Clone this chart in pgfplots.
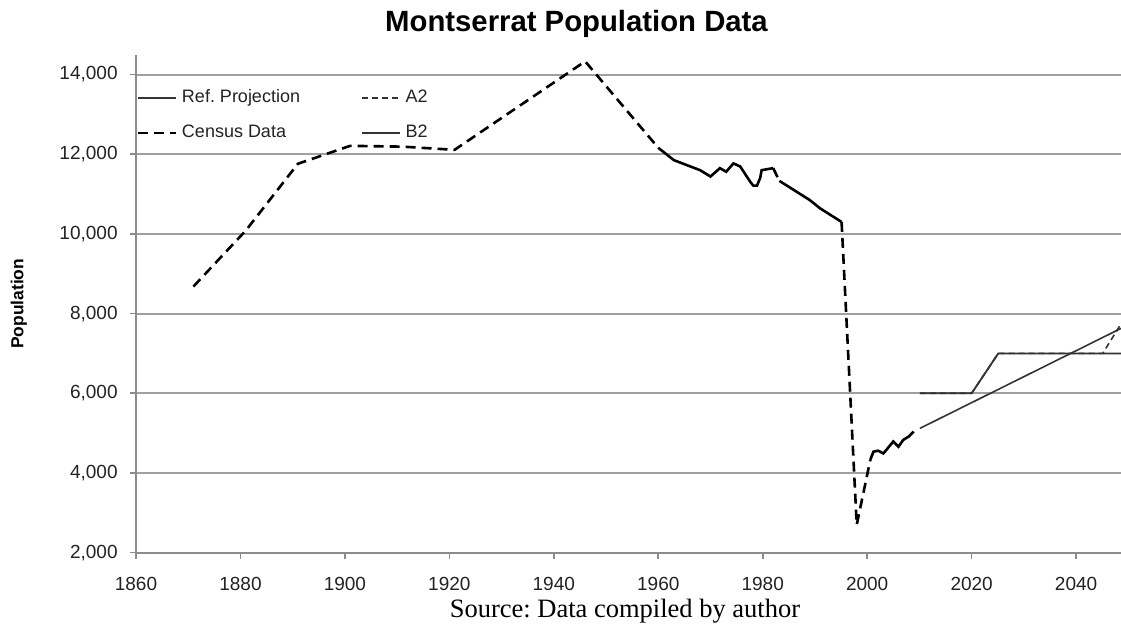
\documentclass[border=0pt]{standalone}
\usepackage{fontspec}
\setmainfont{Liberation Sans}
\newfontfamily\srcfont{Liberation Serif}
\usepackage{pgfplots}
\pgfplotsset{compat=1.18}
\frenchspacing

\definecolor{gridgray}{HTML}{A0A0A0}
\definecolor{axgray}{HTML}{8C8C8C}
\definecolor{txtgray}{HTML}{222222}
\definecolor{thingray}{HTML}{333333}

\begin{document}
\begin{tikzpicture}
\begin{axis}[
    at={(0,0)}, anchor=south west,
    scale only axis,
    width=492.5pt, height=248.85pt,
    xmin=1860, xmax=2048.6,
    ymin=2000, ymax=14490,
    xtick={1860,1880,...,2040},
    ytick={2000,4000,...,14000},
    scaled y ticks=false,
    axis x line=bottom, axis y line=left,
    axis line style={-, draw=axgray, line width=1pt},
    tick align=outside, major tick length=3pt,
    tick style={draw=axgray, line width=0.8pt},
    ymajorgrids,
    major grid style={draw=gridgray, line width=1pt},
    /pgf/number format/assume math mode=true,
    ticklabel style={font=\fontsize{9.5}{11}\selectfont, text=txtgray, inner sep=0pt},
    yticklabel style={/pgf/number format/1000 sep={,}, anchor=east, xshift=-6pt},
    xticklabel style={/pgf/number format/1000 sep={}, anchor=north, yshift=-9pt},
    title={Montserrat Population Data},
    title style={font=\bfseries\fontsize{14.65}{17}\selectfont, at={(axis description cs:0,1)},
        anchor=base, xshift=220.25pt, yshift=5.5pt, inner sep=0pt},
    ylabel={Population},
    ylabel style={font=\bfseries\fontsize{8.7}{10}\selectfont, at={(axis description cs:0,0.5)},
        anchor=center, yshift=58.5pt},
    legend columns=2,
    legend cell align=left,
    legend image code/.code={\draw[#1] (0pt,0pt) -- (19pt,0pt);},
    legend style={at={(0,1)}, anchor=north west, yshift=-17.1pt,
        draw=none, fill=none, inner sep=0pt,
        font=\fontsize{9}{10}\selectfont, text=txtgray,
        nodes={inner sep=0pt, text height=6.5pt, text depth=1.9pt},
        row sep=9.1pt,
        /tikz/every odd column/.append style={column sep=2.5pt},
        /tikz/every even column/.append style={column sep=30.5pt}},
    unbounded coords=jump,
]

% projection (step)
\addplot[thingray, line width=0.9pt] coordinates {
    (2010.1,6000) (2020,6000) (2025.1,7000) (2050,7000)
};
\addlegendentry{Ref. Projection}

% A2 scenario
\addplot[thingray, line width=0.8pt, dash pattern=on 3pt off 2pt] coordinates {
    (2010.1,6000) (2020,6000) (2025.1,7000) (2045.1,7000) (2050,8040)
};
\addlegendentry{A2}

% census counts
\addplot[black, line width=1.3pt, dash pattern=on 5pt off 3pt] coordinates {
    (1871,8680) (1881,10080) (1891,11760) (1901,12210) (1911,12190)
    (1921,12110) (1946,14330) (1960,12160)
    (1970,nan)
    (1982,11650) (1983.2,11330)
    (1990,nan)
    (1995.1,10300) (1998,2700) (2000.6,4330)
};
\addlegendentry{Census Data}

% B2 scenario
\addplot[thingray, line width=0.8pt] coordinates {
    (2010.1,5120) (2050,7720)
};
\addlegendentry{B2}

% annual estimates
\addplot[black, line width=1.3pt, forget plot] coordinates {
    (1960,12160) (1963,11850) (1968,11600) (1970,11440) (1971.8,11650)
    (1973,11560) (1974.4,11770) (1975.7,11690) (1977.6,11310) (1978.2,11210)
    (1978.9,11210) (1979.5,11400) (1979.8,11600) (1982,11650)
    (1982.5,nan)
    (1983.2,11330) (1989,10850) (1991,10640) (1995.1,10300)
    (1998,nan)
    (2000.6,4330) (2001.2,4535) (2002.1,4560) (2003.1,4490) (2005,4790)
    (2006,4660) (2006.9,4830) (2007.9,4910) (2008.9,5040)
};

\end{axis}
\node[anchor=base, font=\srcfont\fontsize{13.25}{15}\selectfont] at (244.5pt,-32.65pt)
    {Source: Data compiled by author};
\pgfresetboundingbox
\path[use as bounding box] (-68pt,-36.15pt) rectangle (492.5pt,276.35pt);
\end{tikzpicture}
\end{document}
